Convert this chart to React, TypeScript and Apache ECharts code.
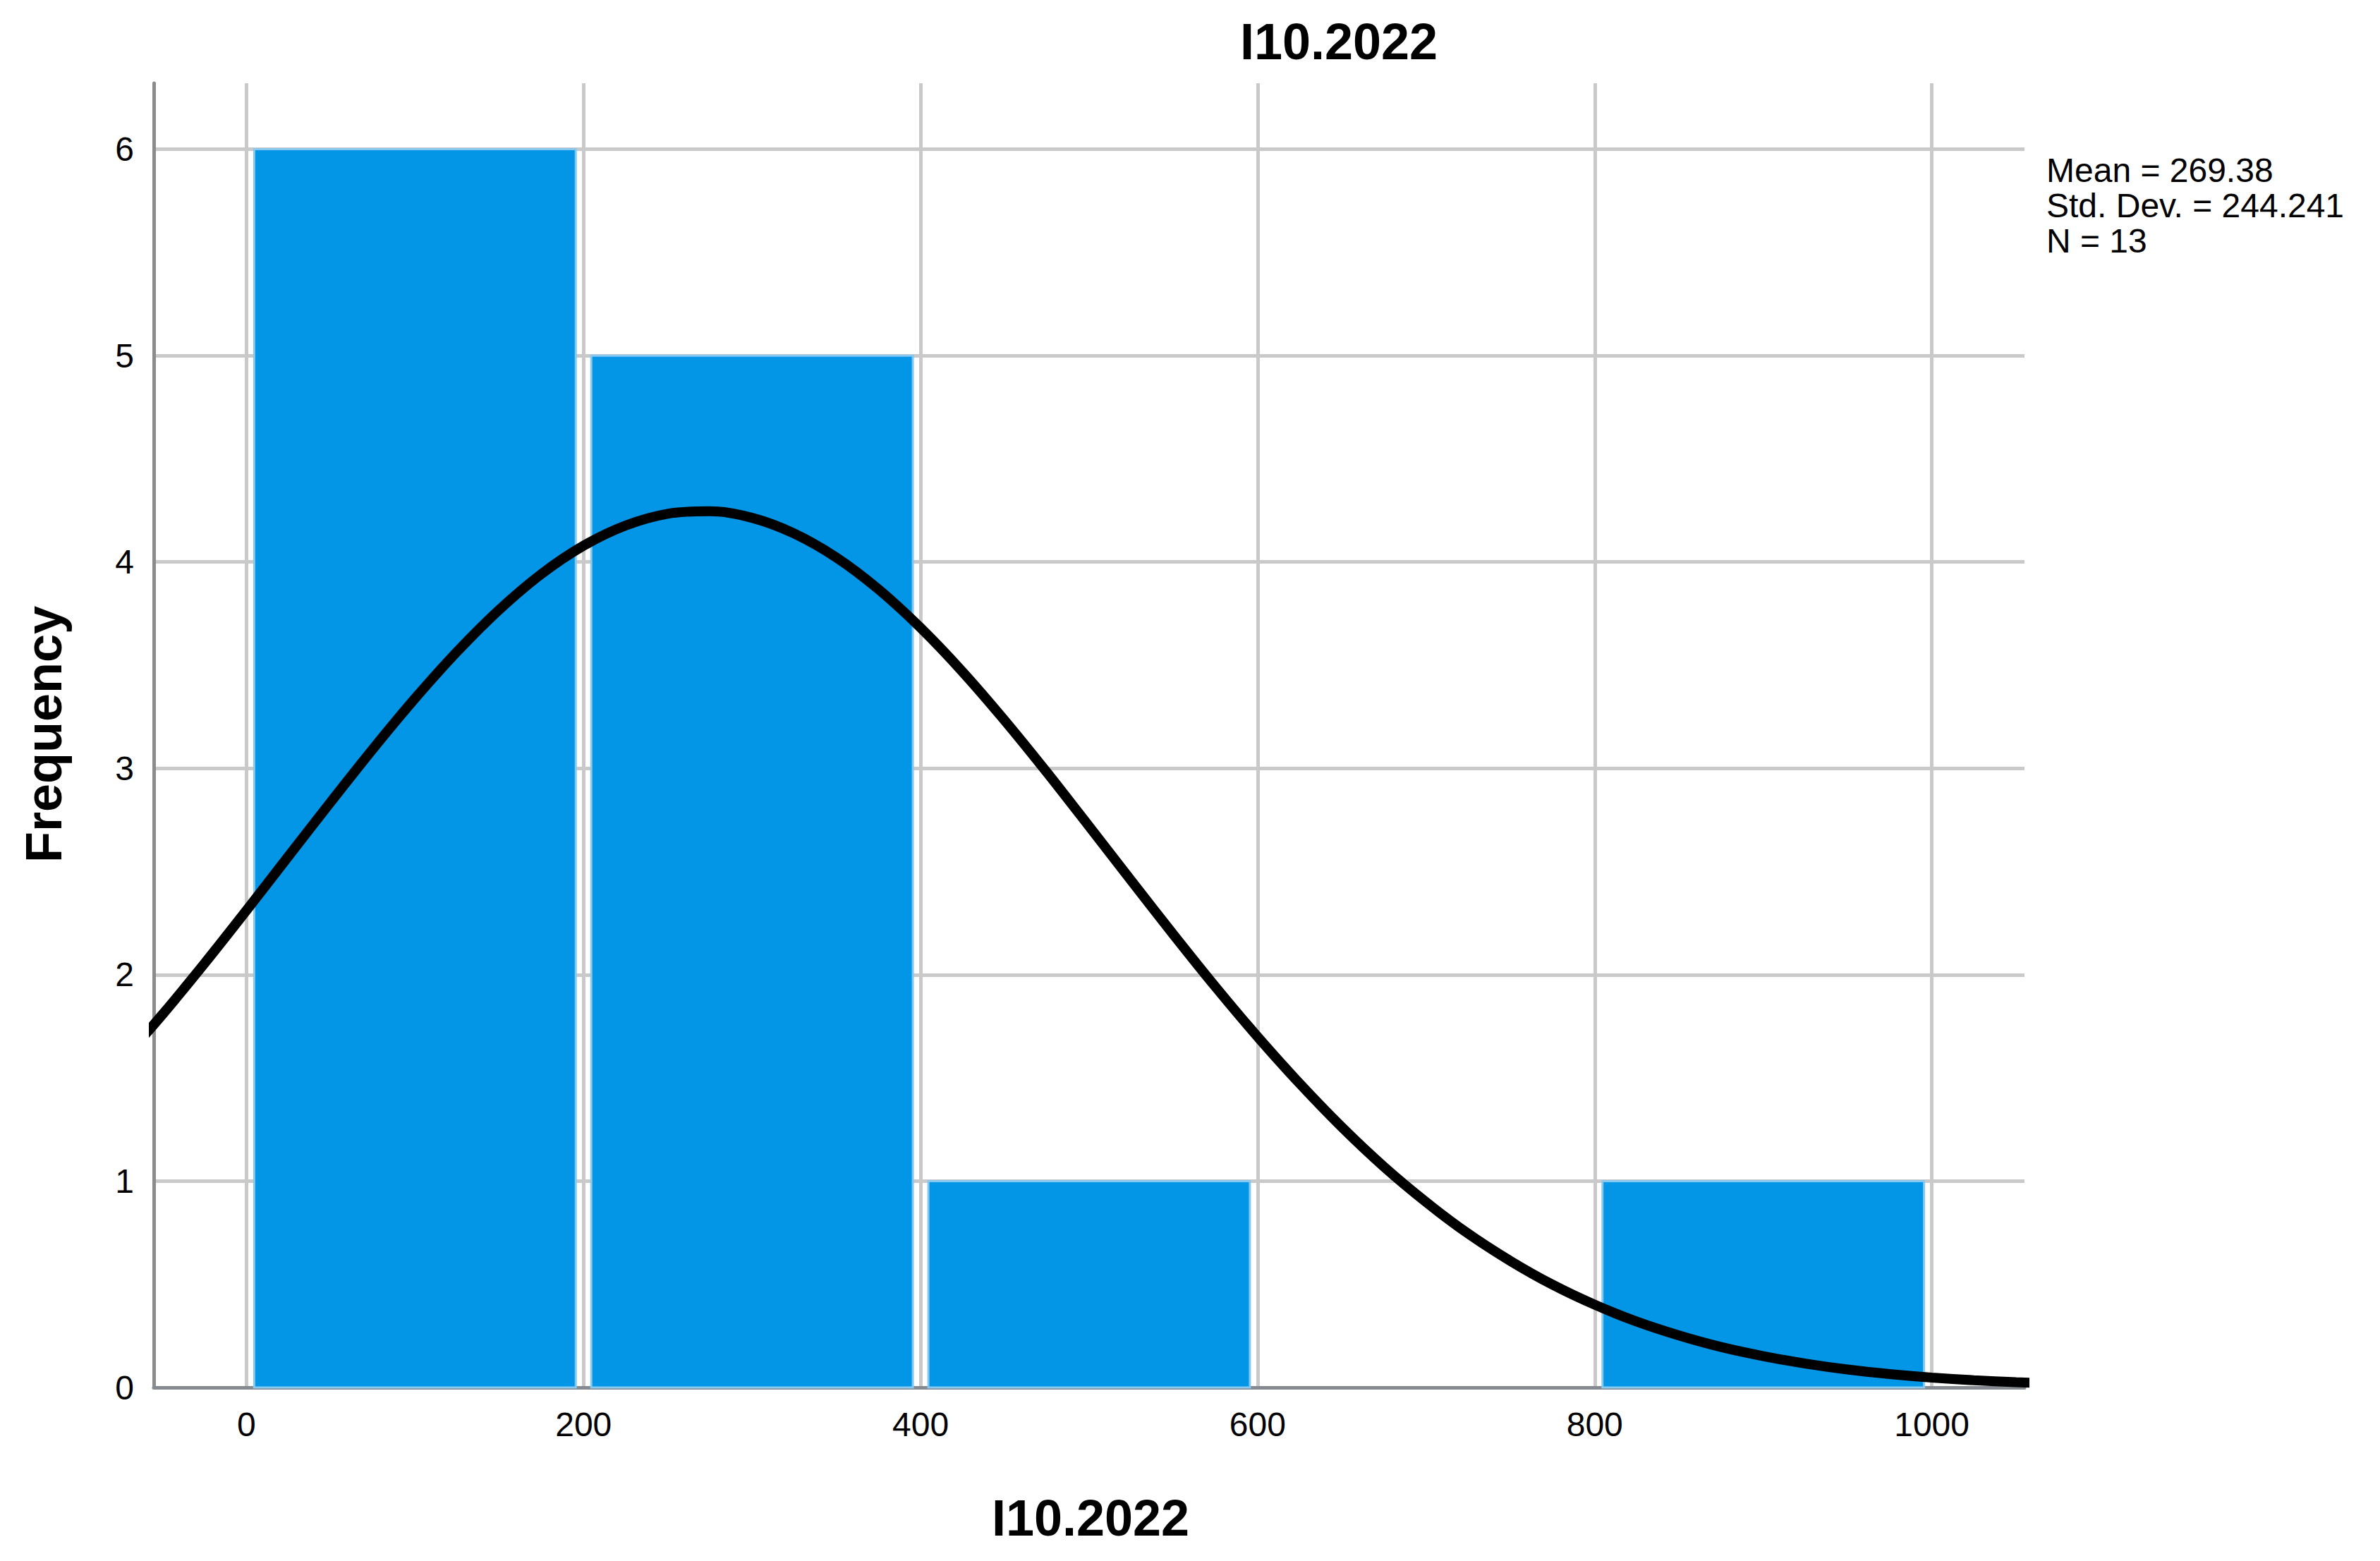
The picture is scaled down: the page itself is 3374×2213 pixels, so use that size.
import React, { useEffect, useRef } from "react";
import * as echarts from "echarts";

// histogram bins (I10.2022)
const binStarts = [0, 200, 400, 600, 800];
const binEnds = [200, 400, 600, 800, 1000];
const frequencies = [6, 5, 1, 0, 1];

// fitted normal curve, every 25 units
const curveX = [
    -75, -50, -25, 0, 25, 50, 75, 100, 125, 150, 175, 200, 225, 250, 275, 300, 325, 350, 375, 400,
    425, 450, 475, 500, 525, 550, 575, 600, 625, 650, 675, 700, 725, 750, 775, 800, 825, 850, 875,
    900, 925, 950, 975, 1000, 1025, 1050, 1075,
];
const curveY = [
    1.572, 1.806, 2.054, 2.312, 2.575, 2.837, 3.094, 3.339, 3.566, 3.769, 3.942, 4.079, 4.177, 4.234,
    4.246, 4.214, 4.138, 4.022, 3.868, 3.681, 3.467, 3.231, 2.98, 2.719, 2.456, 2.195, 1.941, 1.699,
    1.472, 1.261, 1.069, 0.898, 0.745, 0.613, 0.498, 0.401, 0.319, 0.252, 0.196, 0.152, 0.116, 0.087,
    0.065, 0.048, 0.035, 0.026, 0.018,
];

const xTicks = [0, 200, 400, 600, 800, 1000];
const yTicks = [0, 1, 2, 3, 4, 5, 6];

const statLines = ["Mean = 269.38", "Std. Dev. = 244.241", "N = 13"];

const FONT = '"Liberation Sans", Arial, sans-serif';

const App: React.FC = () => {
    const chartRef = useRef<HTMLDivElement>(null);

    useEffect(() => {
        if (!chartRef.current) return;
        document.body.style.margin = "0";
        document.body.style.overflow = "hidden";

        const chart = echarts.init(chartRef.current, null, { renderer: "svg" });

        const option = {
            animation: false,
            backgroundColor: "#ffffff",
            grid: { left: 218, right: 504, top: 118, bottom: 246 },
            xAxis: {
                type: "value",
                min: -55,
                max: 1055,
                axisLine: { show: true, onZero: false, lineStyle: { color: "#858a90", width: 5 } },
                axisTick: { show: false, customValues: xTicks },
                axisLabel: {
                    customValues: xTicks,
                    formatter: (v: number) => String(v),
                    margin: 28,
                    color: "#000",
                    fontFamily: FONT,
                    fontSize: 48,
                },
                splitLine: { show: true, lineStyle: { color: "#c9c9c9", width: 5 } },
            },
            yAxis: {
                type: "value",
                min: 0,
                max: 6.32,
                axisLine: { show: true, onZero: false, lineStyle: { color: "#8c8c8c", width: 5 } },
                axisTick: { show: false, customValues: yTicks },
                axisLabel: {
                    customValues: yTicks,
                    margin: 28,
                    color: "#000",
                    fontFamily: FONT,
                    fontSize: 48,
                },
                splitLine: { show: true, lineStyle: { color: "#c9c9c9", width: 5 } },
            },
            series: [
                {
                    type: "custom",
                    data: binStarts.map((s, i) => [s, binEnds[i], frequencies[i]]),
                    encode: { x: [0, 1], y: 2 },
                    renderItem: (params: any, api: any) => {
                        const h = api.value(2);
                        if (!h) return null;
                        const p0 = api.coord([api.value(0), h]);
                        const p1 = api.coord([api.value(1), 0]);
                        const inset = 11;
                        return {
                            type: "rect",
                            shape: {
                                x: p0[0] + inset,
                                y: p0[1],
                                width: p1[0] - p0[0] - 2 * inset,
                                height: p1[1] - p0[1],
                            },
                            style: { fill: "#0396e6", stroke: "#86c8f0", lineWidth: 3 },
                        };
                    },
                    z: 2,
                },
                {
                    type: "line",
                    data: curveX.map((x, i) => [x, curveY[i]]),
                    smooth: 0.3,
                    symbol: "none",
                    clip: true,
                    lineStyle: { color: "#000", width: 14 },
                    z: 3,
                },
            ],
            graphic: [
                {
                    type: "text",
                    x: 1898,
                    y: 59,
                    style: {
                        text: "I10.2022",
                        font: `bold 72px ${FONT}`,
                        fill: "#000",
                        align: "center",
                        verticalAlign: "middle",
                    },
                },
                {
                    type: "text",
                    x: 1546,
                    y: 2152,
                    style: {
                        text: "I10.2022",
                        font: `bold 72px ${FONT}`,
                        fill: "#000",
                        align: "center",
                        verticalAlign: "middle",
                    },
                },
                {
                    type: "text",
                    x: 62,
                    y: 1041,
                    rotation: Math.PI / 2,
                    style: {
                        text: "Frequency",
                        font: `bold 72px ${FONT}`,
                        fill: "#000",
                        align: "center",
                        verticalAlign: "middle",
                    },
                },
                {
                    type: "text",
                    x: 2901,
                    y: 216,
                    style: {
                        text: statLines.join("\n"),
                        font: `48px ${FONT}`,
                        lineHeight: 50,
                        fill: "#000",
                        align: "left",
                        verticalAlign: "top",
                    },
                },
            ],
        };

        chart.setOption(option);

        return () => {
            chart.dispose();
        };
    }, []);

    return <div ref={chartRef} style={{ width: 3374, height: 2213 }} />;
};

export default App;
